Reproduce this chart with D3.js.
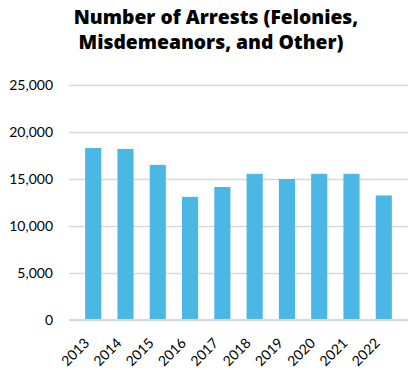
<!DOCTYPE html>
<html>
<head>
<meta charset="utf-8">
<script src="https://cdn.jsdelivr.net/npm/d3@7"></script>
<style>
  body { margin: 0; background: #fff; }
  text { font-family: Lato, "Open Sans", sans-serif; }
</style>
</head>
<body>
<div id="chart"></div>
<script>
var years = ["2013", "2014", "2015", "2016", "2017", "2018", "2019", "2020", "2021", "2022"];
var arrests = [18300, 18200, 16500, 13100, 14150, 15550, 15000, 15550, 15550, 13250];
var yTicks = [0, 5000, 10000, 15000, 20000, 25000];

var width = 412, height = 370;
var margin = { top: 85, right: 4, bottom: 50, left: 69 };

var svg = d3.select("#chart")
  .append("svg")
  .attr("width", width)
  .attr("height", height);

var xScale = d3.scaleBand()
  .domain(years)
  .range([margin.left, width - margin.right])
  .padding(0.5);

var yScale = d3.scaleLinear()
  .domain([0, 25000])
  .range([height - margin.bottom, margin.top]);

// title
var title = svg.append("text")
  .attr("text-anchor", "middle")
  .attr("font-size", 19.3)
  .attr("font-weight", 800)
  .style("font-family", "'Open Sans', sans-serif")
  .attr("fill", "#000");
title.append("tspan").attr("x", 216).attr("y", 24).text("Number of Arrests (Felonies,");
title.append("tspan").attr("x", 211).attr("y", 49).text("Misdemeanors, and Other)");

// gridlines
svg.append("g")
  .attr("class", "y grid")
  .attr("transform", "translate(" + margin.left + ",0)")
  .call(d3.axisLeft(yScale).tickValues(yTicks)
    .tickSize(-(width - margin.left - margin.right))
    .tickFormat(""))
  .call(function(g) { g.select(".domain").remove(); })
  .selectAll("line")
  .attr("stroke", "#d9d9d9")
  .attr("stroke-width", 1.5);

// y labels
svg.append("g")
  .attr("class", "y axis")
  .attr("transform", "translate(" + margin.left + ",0)")
  .call(d3.axisLeft(yScale).tickValues(yTicks).tickSize(0).tickPadding(16)
    .tickFormat(d3.format(",")))
  .call(function(g) { g.select(".domain").remove(); })
  .selectAll("text")
  .attr("font-size", 14)
  .attr("fill", "#000");

// bars
svg.selectAll(".bar")
  .data(arrests)
  .enter().append("rect")
  .attr("class", "bar")
  .attr("x", function(d, i) { return xScale(years[i]); })
  .attr("width", xScale.bandwidth())
  .attr("y", function(d) { return yScale(d); })
  .attr("height", function(d) { return yScale(0) - yScale(d); })
  .attr("fill", "#4bb7e5");

// baseline
svg.append("line")
  .attr("x1", margin.left)
  .attr("x2", width - margin.right)
  .attr("y1", yScale(0))
  .attr("y2", yScale(0))
  .attr("stroke", "#d9d9d9")
  .attr("stroke-width", 2);

// x labels
svg.append("g")
  .attr("class", "x axis")
  .attr("transform", "translate(0," + (height - margin.bottom) + ")")
  .call(d3.axisBottom(xScale).tickSize(0).tickPadding(0))
  .call(function(g) { g.select(".domain").remove(); })
  .selectAll("text")
  .attr("font-size", 14)
  .attr("fill", "#000")
  .attr("y", 0)
  .attr("dy", 0)
  .attr("text-anchor", "end")
  .attr("transform", "translate(-3,24) rotate(-45)");
</script>
</body>
</html>
